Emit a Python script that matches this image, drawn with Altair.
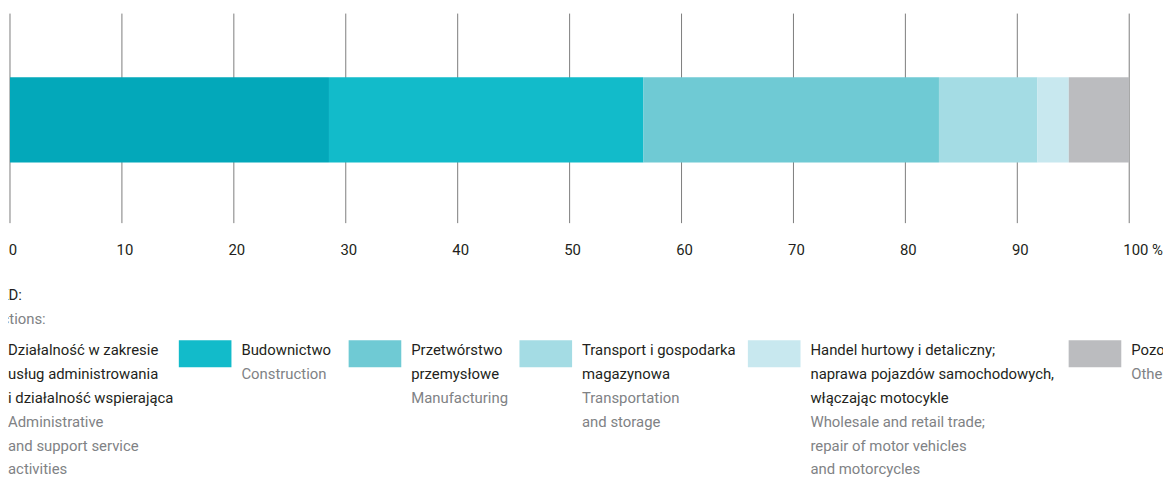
import altair as alt
import pandas as pd

# ---- data ----
categories = ["admin", "construction", "manufacturing", "transport", "trade", "other"]
shares = [28.5, 28.1, 26.4, 8.8, 2.8, 5.4]
labels_pl = [
    "Działalność w zakresie\nusług administrowania\ni działalność wspierająca",
    "Budownictwo",
    "Przetwórstwo\nprzemysłowe",
    "Transport i gospodarka\nmagazynowa",
    "Handel hurtowy i detaliczny;\nnaprawa pojazdów samochodowych,\nwłączając motocykle",
    "Pozostałe",
]
labels_en = [
    "Administrative\nand support service\nactivities",
    "Construction",
    "Manufacturing",
    "Transportation\nand storage",
    "Wholesale and retail trade;\nrepair of motor vehicles\nand motorcycles",
    "Other",
]
tick_values = [0, 10, 20, 30, 40, 50, 60, 70, 80, 90]
heading_pl = "Sekcje PKD:"
heading_en = "NACE sections:"

# ---- style / layout ----
colors = ["#03a8ba", "#12bbca", "#6fcad4", "#a4dce4", "#c8e8ef", "#bbbcbf"]
FONT = "Roboto"
legend_x = [-63, 172, 343, 515, 745, 1068]  # swatch left edges (chart px)
LINE_H = 24

# ---- tables ----
bars = pd.DataFrame({"cat": categories, "share": shares, "idx": list(range(len(categories)))})
ticks = pd.DataFrame({"v": tick_values + [100]})
tick_lab = pd.DataFrame({"v": tick_values, "t": [str(v) for v in tick_values]})

sw_rows = []
txt_rows = []
for i, c in enumerate(categories):
    sw_rows.append({"cat": c, "sx": legend_x[i], "sx2": legend_x[i] + 53})
    pl = labels_pl[i].split("\n")
    en = labels_en[i].split("\n")
    for j, line in enumerate(pl + en):
        txt_rows.append({
            "tx": legend_x[i] + 63,
            "ty": 343 + LINE_H * j,
            "t": line,
            "kind": "pl" if j < len(pl) else "en",
        })
sw = pd.DataFrame(sw_rows)
txt = pd.DataFrame(txt_rows)
head = pd.DataFrame({"t": [heading_pl, heading_en], "kind": ["pl", "en"], "hx": [14, 38], "hy": [287, 312]})

xscale = alt.Scale(domain=[0, 100], range=[2, 1129])
cscale = alt.Scale(domain=categories, range=colors)
kscale = alt.Scale(domain=["pl", "en"], range=["#231f20", "#808285"])

grid = alt.Chart(ticks).mark_rule(color="#7d7d7d", strokeWidth=1).encode(
    x=alt.X("v:Q", scale=xscale, axis=None),
    y=alt.value(4), y2=alt.value(215),
)

bar = alt.Chart(bars).transform_window(
    end="sum(share)", sort=[alt.SortField("idx")], frame=[None, 0]
).transform_calculate(
    start="datum.end - datum.share"
).mark_rect().encode(
    x=alt.X("start:Q", scale=xscale, axis=None),
    x2="end:Q",
    y=alt.value(68), y2=alt.value(154),
    color=alt.Color("cat:N", scale=cscale, legend=None),
)

tl = alt.Chart(tick_lab).mark_text(
    font=FONT, fontSize=15, color="#231f20", align="center", baseline="middle", dx=3
).encode(
    x=alt.X("v:Q", scale=xscale, axis=None),
    y=alt.value(242),
    text="t:N",
)
tl100 = alt.Chart(pd.DataFrame({"v": [100], "t": ["100 %"]})).mark_text(
    font=FONT, fontSize=15, color="#231f20", align="left", baseline="middle", dx=-6
).encode(
    x=alt.X("v:Q", scale=xscale, axis=None),
    y=alt.value(242),
    text="t:N",
)

swatches = alt.Chart(sw).mark_rect().encode(
    x=alt.X("sx:Q", scale=None, axis=None),
    x2="sx2:Q",
    y=alt.value(333), y2=alt.value(360),
    color=alt.Color("cat:N", scale=cscale, legend=None),
)

legend_text = alt.Chart(txt).mark_text(
    font=FONT, fontSize=15, align="left", baseline="middle"
).encode(
    x=alt.X("tx:Q", scale=None, axis=None),
    y=alt.Y("ty:Q", scale=None, axis=None),
    text="t:N",
    color=alt.Color("kind:N", scale=kscale, legend=None),
)

heading = alt.Chart(head).mark_text(
    font=FONT, fontSize=15, align="right", baseline="middle"
).encode(
    x=alt.X("hx:Q", scale=None, axis=None),
    y=alt.Y("hy:Q", scale=None, axis=None),
    text="t:N",
    color=alt.Color("kind:N", scale=kscale, legend=None),
)

chart = alt.layer(
    grid, bar, tl, tl100, swatches, legend_text, heading
).resolve_scale(
    x="independent", y="independent", color="independent"
).properties(
    width=1163, height=470,
    autosize=alt.AutoSizeParams(type="none"),
    padding=0,
).configure_view(stroke=None)

chart.save("out.html", embed_options={"renderer": "svg", "actions": False})
